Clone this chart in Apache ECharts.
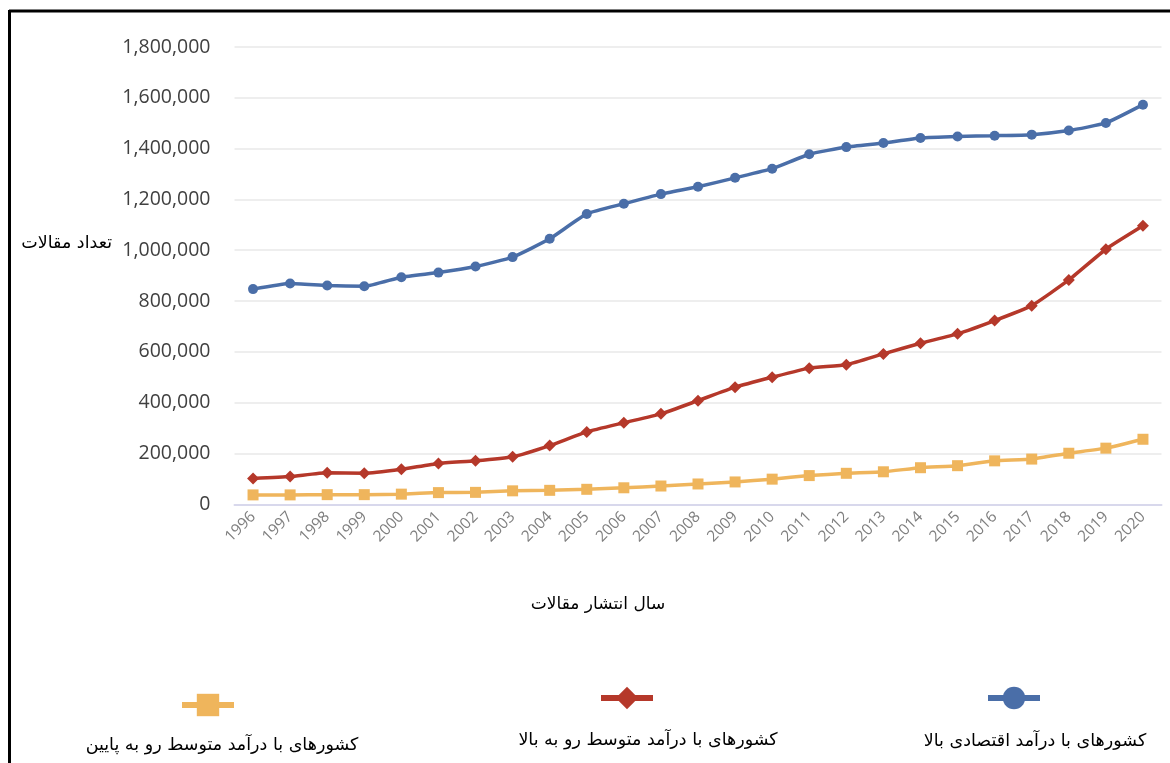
<!DOCTYPE html>
<html>
<head>
<meta charset="utf-8">
<script src="https://cdn.jsdelivr.net/npm/echarts@6/dist/echarts.min.js"></script>
<style>
html,body{margin:0;padding:0;background:#ffffff;}
#c{width:1170px;height:763px;}
</style>
</head>
<body>
<div id="c"></div>
<script>
var years = ['1996','1997','1998','1999','2000','2001','2002','2003','2004','2005','2006','2007','2008','2009','2010','2011','2012','2013','2014','2015','2016','2017','2018','2019','2020'];
var highIncome = [847000,869000,861000,858000,894000,912000,936000,973000,1045000,1143000,1183000,1221000,1250000,1285000,1321000,1378000,1406000,1422000,1442000,1448000,1451000,1455000,1471000,1501000,1573000];
var upperMiddle = [102000,109000,124000,122000,138000,161000,171000,187000,231000,285000,321000,356000,408000,461000,500000,536000,549000,592000,634000,671000,723000,782000,883000,1004000,1096000];
var lowerMiddle = [37000,37000,38000,38000,40000,46000,47000,53000,55000,59000,65000,72000,80000,88000,99000,113000,122000,128000,144000,152000,171000,178000,201000,221000,256000];
var seriesNames = ['کشورهای با درآمد اقتصادی بالا','کشورهای با درآمد متوسط رو به بالا','کشورهای با درآمد متوسط رو به پایین'];
var yAxisTitle = 'تعداد مقالات';
var xAxisTitle = 'سال انتشار مقالات';

var chart = echarts.init(document.getElementById('c'));
var arFont = 'DejaVu Sans';
var numFont = 'Open Sans';
var blue = '#4a6ea8', red = '#b5382a', yellow = '#efb55c';

function legendFor(name, cx, cy) {
  return {
    data: [name], left: cx - 26, top: cy - 14, itemWidth: 52, itemHeight: 28,
    formatter: function () { return ''; }, selectedMode: false,
    lineStyle: { width: 6 }, textStyle: { fontSize: 1 }
  };
}

chart.setOption({
  backgroundColor: '#ffffff',
  animation: false,
  grid: { left: 234.5, right: 8.5, top: 47, bottom: 258.7, containLabel: false },
  xAxis: {
    type: 'category', data: years, boundaryGap: true,
    axisLine: { lineStyle: { color: '#d8d8ec', width: 2 } },
    axisTick: { alignWithLabel: true, length: 9, lineStyle: { color: '#d8d8ec', width: 2 } },
    axisLabel: { rotate: 45, color: '#7f7f7f', fontFamily: numFont, fontSize: 15.5, margin: 10, interval: 0 },
    splitLine: { show: false }
  },
  yAxis: {
    type: 'value', min: 0, max: 1800000, interval: 200000,
    axisLine: { show: false }, axisTick: { show: false },
    axisLabel: {
      color: '#404040', fontFamily: numFont, fontSize: 19.5, margin: 24,
      formatter: function (v) { return v.toLocaleString('en-US'); }
    },
    splitLine: { lineStyle: { color: '#e9e9e9', width: 1.5 } }
  },
  legend: [
    legendFor(seriesNames[2], 200, 700),
    legendFor(seriesNames[1], 619, 693),
    legendFor(seriesNames[0], 1006, 693)
  ],
  series: [
    { name: seriesNames[0], type: 'line', data: highIncome, smooth: 0.15,
      symbol: 'circle', symbolSize: 10, color: blue,
      lineStyle: { width: 3.5, color: blue }, itemStyle: { color: blue } },
    { name: seriesNames[1], type: 'line', data: upperMiddle, smooth: 0.15,
      symbol: 'diamond', symbolSize: 12, color: red,
      lineStyle: { width: 3.5, color: red }, itemStyle: { color: red } },
    { name: seriesNames[2], type: 'line', data: lowerMiddle, smooth: 0.15,
      symbol: 'rect', symbolSize: 11, color: yellow,
      lineStyle: { width: 3.5, color: yellow }, itemStyle: { color: yellow } }
  ],
  graphic: [
    { type: 'line', shape: { x1: 9, y1: 11, x2: 1170, y2: 11 }, style: { stroke: '#000', lineWidth: 3 } },
    { type: 'line', shape: { x1: 9.5, y1: 10, x2: 9.5, y2: 763 }, style: { stroke: '#000', lineWidth: 3 } },
    { type: 'text', x: 112, y: 243, style: { text: yAxisTitle, font: '17.5px "' + arFont + '"', fill: '#000', textAlign: 'right', textVerticalAlign: 'middle' } },
    { type: 'text', x: 598, y: 605, style: { text: xAxisTitle, font: '17px "' + arFont + '"', fill: '#000', textAlign: 'center', textVerticalAlign: 'middle' } },
    { type: 'text', x: 222, y: 745, style: { text: seriesNames[2], font: '17.5px "' + arFont + '"', fill: '#000', textAlign: 'center', textVerticalAlign: 'middle' } },
    { type: 'text', x: 648, y: 740, style: { text: seriesNames[1], font: '17.5px "' + arFont + '"', fill: '#000', textAlign: 'center', textVerticalAlign: 'middle' } },
    { type: 'text', x: 1035, y: 741, style: { text: seriesNames[0], font: '17.5px "' + arFont + '"', fill: '#000', textAlign: 'center', textVerticalAlign: 'middle' } }
  ]
});
</script>
</body>
</html>
